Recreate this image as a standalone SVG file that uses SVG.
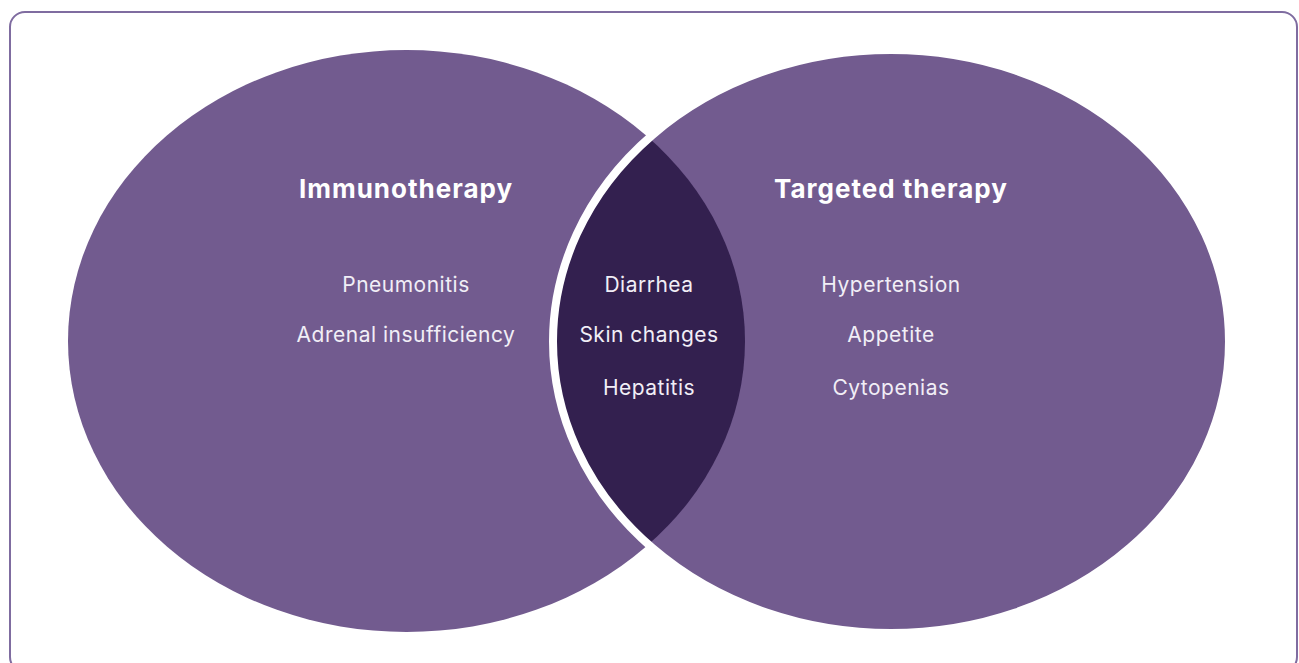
<svg xmlns="http://www.w3.org/2000/svg" width="1299" height="663" viewBox="0 0 1299 663">
  <defs>
    <clipPath id="clip-right">
      <ellipse cx="891" cy="341.5" rx="338" ry="291.5"/>
    </clipPath>
    <style>
      .set { fill: #725b8f; }
      .overlap { fill: #33204f; }
      .title { font-family: Inter, "Open Sans", "Liberation Sans", sans-serif; font-weight: 700; font-size: 26px; letter-spacing: 1px; fill: #ffffff; text-anchor: middle; }
      .item { font-family: Inter, "Open Sans", "Liberation Sans", sans-serif; font-weight: 400; font-size: 21px; letter-spacing: 0.5px; fill: #f1eef6; text-anchor: middle; }
    </style>
  </defs>

  <rect x="10" y="12" width="1287" height="660" rx="15" fill="#ffffff" stroke="#7f6ca0" stroke-width="2"/>

  <g id="immunotherapy">
    <ellipse class="set" cx="406.5" cy="341" rx="338.5" ry="291"/>
    <text class="title" x="406" y="198">Immunotherapy</text>
    <text class="item" x="406" y="292">Pneumonitis</text>
    <text class="item" x="406" y="342">Adrenal insufficiency</text>
  </g>

  <g id="targeted-therapy">
    <ellipse class="set" cx="891" cy="341.5" rx="338" ry="291.5"/>
    <text class="title" x="891" y="198">Targeted therapy</text>
    <text class="item" x="891" y="292">Hypertension</text>
    <text class="item" x="891" y="342">Appetite</text>
    <text class="item" x="891" y="395">Cytopenias</text>
  </g>

  <g id="shared">
    <ellipse class="overlap" cx="406.5" cy="341" rx="338.5" ry="291" clip-path="url(#clip-right)"/>
    <!-- white rim separating the right set from the left one -->
    <ellipse cx="891" cy="341.5" rx="338" ry="291.5" fill="none" stroke="#ffffff" stroke-width="8"/>
    <text class="item" x="649" y="292">Diarrhea</text>
    <text class="item" x="649" y="342">Skin changes</text>
    <text class="item" x="649" y="395">Hepatitis</text>
  </g>
</svg>
